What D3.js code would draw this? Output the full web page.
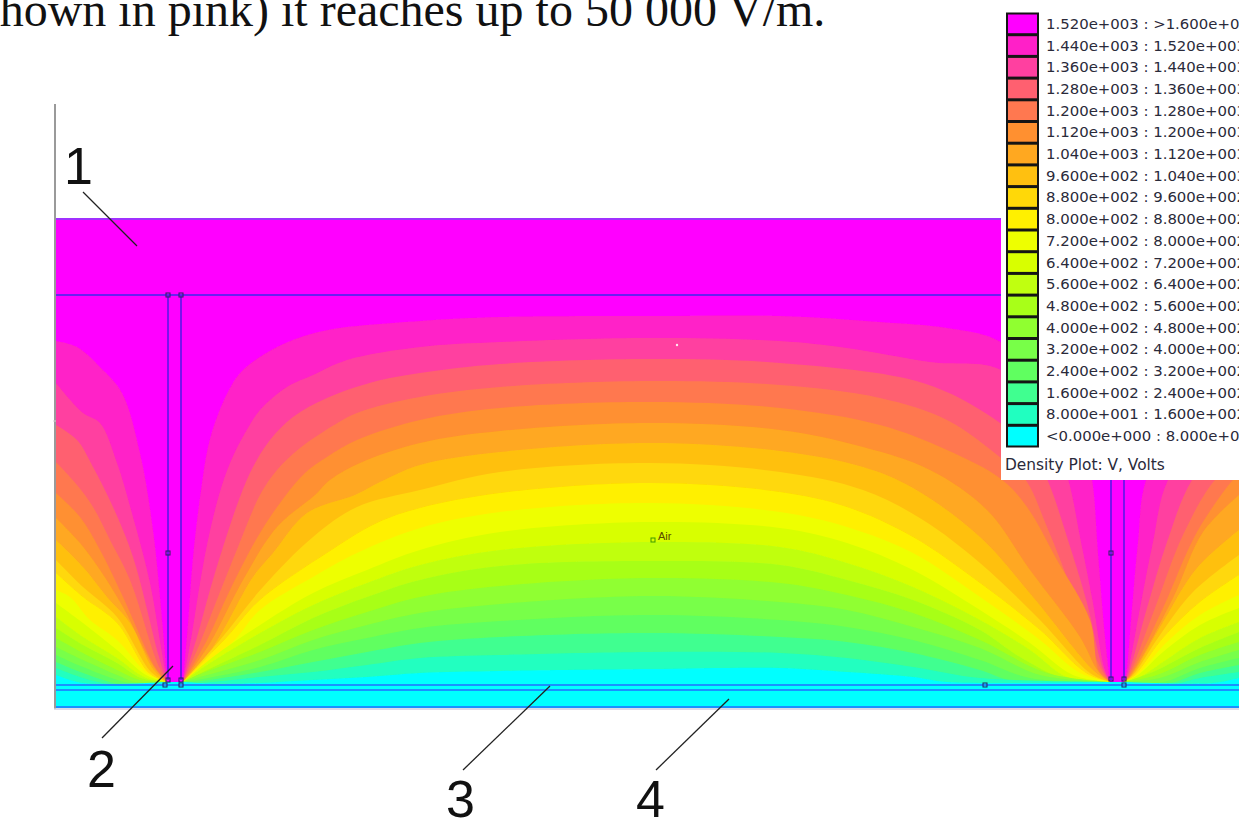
<!DOCTYPE html>
<html>
<head>
<meta charset="utf-8">
<script src="https://cdn.jsdelivr.net/npm/d3@7"></script>
<style>
html, body { margin: 0; padding: 0; background: #fff; overflow: hidden; }
svg { display: block; }
</style>
</head>
<body>
<div id="chart"></div>
<script>
// contour levels in volts, highest first
var contourLevels = [1520, 1440, 1360, 1280, 1200, 1120, 1040, 960, 880, 800, 720, 640, 560, 480, 400, 320, 240, 160, 80];
var topValue = 1600;
var bandColors = ["#ff00ff", "#ff20c8", "#ff40a0", "#ff6070", "#ff7850", "#ff9030", "#ffa820", "#ffc010", "#ffd808", "#fff000",
    "#eeff00", "#d8ff00", "#c0ff10", "#a8ff18", "#90ff30", "#78ff48", "#60ff60", "#40ff90", "#20ffc0", "#00ffff"];

var captionText = "(shown in pink) it reaches up to 50 000 V/m.";
var legendTitle = "Density Plot: V, Volts";
var regionLabel = "Air";
var calloutLabels = ["1", "2", "3", "4"];

// model extent: distance along the base, height above the base (mesh units)
var modelWidth = 1183, modelHeight = 488;

// the four corners of the two electrodes where all contours meet
var footA = [111, 25], footB = [127, 25], footC = [1054, 25], footD = [1068, 25];

// contour traces, [along, height], one row per level in contourLevels order
var leftLobes = [
    [[0,366],[21,360],[44,340],[66,314],[84,254],[97,177],[107,77]],
    [[0,324],[27,294],[44,284],[61,244],[77,190],[94,124],[105,60]],
    [[0,282],[21,267],[37,240],[57,200],[77,150],[103,50]],
    [[0,245],[21,222],[37,200],[54,167],[74,127],[101,45]],
    [[0,214],[24,190],[44,157],[67,110],[99,40]],
    [[0,189],[24,164],[44,137],[67,100],[98,40]],
    [[0,167],[27,140],[51,110],[74,84],[97,38]],
    [[0,147],[27,120],[61,90],[95,35]],
    [[0,134],[27,110],[61,84],[93,34]],
    [[0,117],[14,110],[34,87],[61,67],[92,33]],
    [[0,104],[27,84],[61,57],[90,32]],
    [[0,90],[27,70],[61,49],[88,30]],
    [[0,79],[27,62],[61,44],[85,29]],
    [[0,69],[27,54],[61,37],[84,27]],
    [[0,60],[27,47],[61,32],[79,25]],
    [[0,52],[27,40],[74,24]],
    [[0,45],[27,34],[64,23]],
    [[0,39],[27,29],[54,23]],
    [[0,32],[27,24]]
];

var centreArches = [
    [[132,84],[137,150],[145,217],[152,260],[161,290],[174,319],[187,337],[221,360],[267,376],[364,386],[444,390],[594,391],[724,391],[824,385],[891,379],[941,367],[989,327],[1024,277],[1036,228],[1042,154],[1049,70]],
    [[136,74],[144,124],[152,167],[163,212],[174,244],[189,274],[204,297],[231,320],[257,332],[291,347],[364,360],[444,365],[594,369],[724,366],[791,359],[874,345],[945,337],[989,287],[1012,228],[1024,170],[1037,104],[1048,40]],
    [[141,70],[154,117],[167,160],[184,210],[197,240],[214,267],[237,290],[271,309],[317,325],[364,334],[444,343],[594,348],[724,344],[867,324],[937,289],[974,257],[991,228],[1011,170],[1031,104],[1047,38]],
    [[144,64],[162,110],[182,160],[204,212],[221,237],[244,259],[267,275],[301,294],[364,310],[444,320],[594,326],[724,322],[824,309],[891,287],[945,249],[969,228],[991,180],[1017,114],[1045,38]],
    [[151,67],[174,117],[204,174],[230,212],[249,234],[271,250],[301,267],[364,287],[444,299],[594,305],[724,299],[824,282],[891,257],[945,228],[971,200],[1001,147],[1034,87],[1043,36]],
    [[154,64],[187,127],[221,180],[259,212],[274,227],[304,244],[364,264],[444,276],[594,284],[724,277],[807,260],[874,237],[931,197],[974,137],[1024,70],[1042,36]],
    [[157,60],[197,130],[217,154],[251,194],[299,212],[324,225],[364,242],[444,255],[594,264],[724,256],[807,240],[857,219],[924,170],[977,110],[1038,36]],
    [[164,67],[207,120],[257,170],[301,200],[364,217],[444,235],[594,244],[724,235],[807,217],[867,187],[924,144],[984,87],[1034,34]],
    [[171,70],[204,107],[271,154],[321,184],[364,199],[444,214],[594,224],[724,215],[791,200],[857,170],[924,124],[984,77],[1030,34]],
    [[176,64],[204,97],[257,130],[301,154],[364,179],[444,195],[594,204],[724,195],[791,180],[857,154],[924,110],[984,67],[1024,34]],
    [[157,50],[201,80],[257,114],[311,137],[364,157],[444,175],[594,185],[724,179],[791,164],[857,137],[924,97],[974,64],[1017,32]],
    [[154,44],[204,74],[257,102],[311,124],[364,142],[444,157],[594,165],[724,160],[791,144],[857,120],[924,87],[974,57],[1011,30]],
    [[151,37],[204,62],[257,89],[311,110],[364,127],[444,141],[594,146],[724,142],[791,127],[857,107],[924,77],[964,50],[1007,29]],
    [[147,34],[204,55],[257,77],[311,95],[364,110],[444,121],[594,129],[724,124],[791,112],[857,94],[924,67],[991,34]],
    [[144,30],[204,47],[257,67],[311,82],[364,94],[444,103],[594,111],[724,105],[791,97],[857,80],[924,59],[984,32]],
    [[141,27],[204,40],[257,57],[311,69],[364,79],[444,86],[594,92],[724,87],[791,80],[857,67],[924,47],[974,29]],
    [[137,25],[204,35],[257,45],[311,55],[364,64],[444,70],[594,74],[724,70],[791,65],[857,54],[924,37],[957,26]],
    [[139,24],[204,30],[257,35],[311,42],[364,49],[444,52],[594,55],[724,54],[791,49],[857,40],[924,29]],
    [[164,23],[204,24],[257,27],[311,30],[364,34],[444,36],[594,38],[724,39],[791,35],[857,30],[891,25]]
];

var rightLobes = [
    [[1070,32],[1076,99],[1082,165],[1090,227],[1134,307],[1183,367]],
    [[1071,32],[1084,99],[1097,165],[1112,227],[1183,324]],
    [[1072,32],[1091,99],[1111,165],[1136,227],[1183,282]],
    [[1073,32],[1099,99],[1127,172],[1159,227],[1183,245]],
    [[1074,32],[1107,99],[1141,175],[1177,227],[1183,232]],
    [[1075,32],[1117,109],[1147,175],[1183,212]],
    [[1076,32],[1107,85],[1141,139],[1183,177]],
    [[1077,32],[1104,72],[1137,115],[1183,152]],
    [[1079,32],[1107,69],[1144,105],[1183,132]],
    [[1081,32],[1111,65],[1144,92],[1183,112]],
    [[1082,32],[1107,55],[1144,82],[1183,99]],
    [[1084,30],[1107,45],[1144,69],[1183,85]],
    [[1097,35],[1144,59],[1183,75]],
    [[1101,32],[1144,52],[1183,65]],
    [[1104,29],[1144,45],[1183,57]],
    [[1107,25],[1144,39],[1183,49]],
    [[1114,24],[1144,34],[1183,42]],
    [[1117,23],[1144,29],[1183,35]],
    [[1157,24],[1183,29]]
];

// model geometry, same units
var groundHeights = [22, 17, 0];
var boundaryHeights = [{h: 488, c: "#a030ff"}, {h: 412, c: "#6a20f0"}];
var electrodeAlong = [112, 125, 1055, 1068];
var electrodeTop = 412, electrodeBottom = 27;
var meshNodes = [[112,412],[125,412],[112,154],[1055,154],[112,27],[125,27],[109,22],[125,22],[1055,28],[1068,28],[1068,22],[929,22]];
var airNode = [597, 167], dustNode = [621, 362];

var width = 1239, height = 827;

var svg = d3.select("#chart").append("svg")
    .attr("width", width)
    .attr("height", height);

var x = d3.scaleLinear().domain([0, modelWidth]).range([56, 1239]);
var y = d3.scaleLinear().domain([0, modelHeight]).range([707, 219]);

var defs = svg.append("defs");
defs.append("filter").attr("id", "soft")
    .append("feGaussianBlur").attr("stdDeviation", 0.5);

/* ****************************************
* density bands
**************************************** */
var line = d3.line()
    .x(function(d) { return x(d[0]); })
    .y(function(d) { return y(d[1]); })
    .curve(d3.curveCatmullRom.alpha(0.5));

function bandPath(i) {
    return line(leftLobes[i].concat([footA]))
        + line([footB].concat(centreArches[i], [footC])).replace("M", "L")
        + line([footD].concat(rightLobes[i])).replace("M", "L")
        + "L" + x(modelWidth) + "," + y(0)
        + "L" + x(0) + "," + y(0) + "Z";
}

var field = svg.append("g").attr("filter", "url(#soft)");

field.append("rect")
    .attr("x", x(0))
    .attr("y", y(modelHeight))
    .attr("width", x(modelWidth) - x(0))
    .attr("height", y(0) - y(modelHeight))
    .attr("fill", bandColors[0]);

// painted from the top level down, each one covers what lies below it
field.selectAll("path.band")
    .data(contourLevels)
    .enter().append("path")
    .attr("class", "band")
    .attr("d", function(d, i) { return bandPath(i); })
    .attr("fill", function(d, i) { return bandColors[i + 1]; });

/* ****************************************
* model outline
**************************************** */
svg.append("line")
    .attr("x1", x(0) - 1).attr("x2", x(0) - 1)
    .attr("y1", 104).attr("y2", y(0) + 2)
    .attr("stroke", "#9a9a9a").attr("stroke-width", 2);
svg.append("line")
    .attr("x1", x(0) - 3).attr("x2", x(0))
    .attr("y1", 421).attr("y2", 421)
    .attr("stroke", "#d0d0d0").attr("stroke-width", 1);
svg.append("line")
    .attr("x1", x(0) - 2).attr("x2", width)
    .attr("y1", y(0) + 2).attr("y2", y(0) + 2)
    .attr("stroke", "#cfcfe0").attr("stroke-width", 1.5);

svg.selectAll("line.ground")
    .data(groundHeights)
    .enter().append("line")
    .attr("class", "ground")
    .attr("x1", x(0)).attr("x2", width)
    .attr("y1", function(d) { return y(d); })
    .attr("y2", function(d) { return y(d); })
    .attr("stroke", "#1a90ff").attr("stroke-width", 2);

svg.selectAll("line.boundary")
    .data(boundaryHeights)
    .enter().append("line")
    .attr("class", "boundary")
    .attr("x1", x(0)).attr("x2", width)
    .attr("y1", function(d) { return y(d.h); })
    .attr("y2", function(d) { return y(d.h); })
    .attr("stroke", function(d) { return d.c; }).attr("stroke-width", 2);

svg.selectAll("line.electrode")
    .data(electrodeAlong)
    .enter().append("line")
    .attr("class", "electrode")
    .attr("x1", function(d) { return x(d); })
    .attr("x2", function(d) { return x(d); })
    .attr("y1", y(electrodeTop)).attr("y2", y(electrodeBottom))
    .attr("stroke", "#5a18e8").attr("stroke-width", 1.6);

svg.selectAll("rect.node")
    .data(meshNodes)
    .enter().append("rect")
    .attr("class", "node")
    .attr("x", function(d) { return x(d[0]) - 2; })
    .attr("y", function(d) { return y(d[1]) - 2; })
    .attr("width", 4).attr("height", 4)
    .attr("fill", "none")
    .attr("stroke", "#222266").attr("stroke-width", 1);

svg.append("rect")
    .attr("x", x(airNode[0]) - 2).attr("y", y(airNode[1]) - 2)
    .attr("width", 4).attr("height", 4)
    .attr("fill", "none").attr("stroke", "#3a9a00");
svg.append("text")
    .attr("x", x(airNode[0]) + 5).attr("y", y(airNode[1]) - 0)
    .attr("font-family", "'Liberation Sans', Arial, sans-serif")
    .attr("font-size", 11)
    .attr("fill", "#5a4a00")
    .text(regionLabel);
svg.append("circle")
    .attr("cx", x(dustNode[0])).attr("cy", y(dustNode[1]))
    .attr("r", 1.2).attr("fill", "#ffe8f0");

/* ****************************************
* legend
**************************************** */
var legend = svg.append("g");

legend.append("rect")
    .attr("x", 1001).attr("y", 0)
    .attr("width", 238).attr("height", 480)
    .attr("fill", "#fff");

var rowNames = bandColors.map(function(d, i) { return i; });
var rowScale = d3.scaleBand().domain(rowNames).range([13, 447]);

function sci(v) {
    var parts = v.toExponential(3).split("e");
    var exp = Math.abs(+parts[1]);
    return parts[0] + "e+" + d3.format("03d")(exp);
}

function rowLabel(i) {
    if (i === 0) return sci(contourLevels[0]) + " : >" + sci(topValue);
    if (i === contourLevels.length) return "<" + sci(0) + " : " + sci(contourLevels[i - 1]);
    return sci(contourLevels[i]) + " : " + sci(contourLevels[i - 1]);
}

var rows = legend.selectAll("g.row")
    .data(rowNames)
    .enter().append("g")
    .attr("class", "row")
    .attr("transform", function(d) { return "translate(0," + rowScale(d) + ")"; });

rows.append("rect")
    .attr("x", 1007)
    .attr("y", 0.5)
    .attr("width", 31)
    .attr("height", rowScale.bandwidth() - 1)
    .attr("fill", function(d) { return bandColors[d]; })
    .attr("stroke", "#151515")
    .attr("stroke-width", 2);

rows.append("text")
    .attr("x", 1046)
    .attr("y", rowScale.bandwidth() / 2 + 5)
    .attr("font-family", "'DejaVu Sans', Verdana, sans-serif")
    .attr("font-size", 14.9)
    .attr("fill", "#2a2a3a")
    .text(function(d) { return rowLabel(d); });

legend.append("text")
    .attr("x", 1005)
    .attr("y", 470)
    .attr("font-family", "'DejaVu Sans', Verdana, sans-serif")
    .attr("font-size", 15.4)
    .attr("fill", "#2a2a3a")
    .text(legendTitle);

/* ****************************************
* caption and callouts
**************************************** */
svg.append("text")
    .attr("x", -35)
    .attr("y", 26)
    .attr("font-family", "'Liberation Serif', 'Times New Roman', serif")
    .attr("font-size", 48)
    .attr("fill", "#111")
    .text(captionText);

var calloutLayout = [
    {tx: 64, ty: 184, x1: 83, y1: 192, x2: 137, y2: 246},
    {tx: 87, ty: 787, x1: 102, y1: 738, x2: 173, y2: 666},
    {tx: 446, ty: 817, x1: 463, y1: 770, x2: 550, y2: 686},
    {tx: 636, ty: 817, x1: 656, y1: 770, x2: 729, y2: 699}
];

svg.selectAll("line.leader")
    .data(calloutLayout)
    .enter().append("line")
    .attr("class", "leader")
    .attr("x1", function(d) { return d.x1; })
    .attr("y1", function(d) { return d.y1; })
    .attr("x2", function(d) { return d.x2; })
    .attr("y2", function(d) { return d.y2; })
    .attr("stroke", "#222").attr("stroke-width", 1.3);

svg.selectAll("text.callout")
    .data(calloutLabels)
    .enter().append("text")
    .attr("class", "callout")
    .attr("x", function(d, i) { return calloutLayout[i].tx; })
    .attr("y", function(d, i) { return calloutLayout[i].ty; })
    .attr("font-family", "'Liberation Sans', Arial, sans-serif")
    .attr("font-size", 52)
    .attr("fill", "#111")
    .text(function(d) { return d; });
</script>
</body>
</html>
